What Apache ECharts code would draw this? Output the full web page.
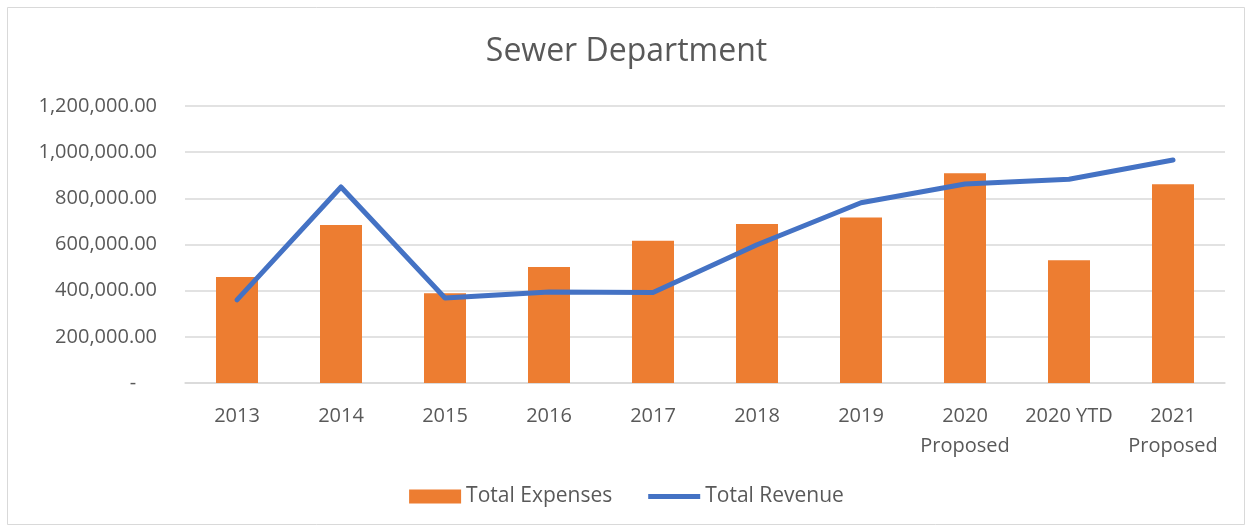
<!DOCTYPE html>
<html><head><meta charset="utf-8">
<script src="https://cdn.jsdelivr.net/npm/echarts@6/dist/echarts.min.js"></script>
<style>html,body{margin:0;padding:0;background:#fff}#c{width:1253px;height:531px}</style>
</head><body><div id="c"></div>
<script>
const categories = ['2013','2014','2015','2016','2017','2018','2019','2020\nProposed','2020 YTD','2021\nProposed'];
const totalExpenses = [459000, 684000, 389000, 502000, 616000, 689000, 717000, 909000, 532000, 861000];
const totalRevenue = [360000, 849000, 368000, 394000, 392000, 599000, 781000, 862000, 883000, 966000];
const yTicks = [0, 200000, 400000, 600000, 800000, 1000000, 1200000];

const chart = echarts.init(document.getElementById('c'));
const font = 'Open Sans';
chart.setOption({
  animation: false,
  backgroundColor: '#fff',
  graphic: [{type:'rect', shape:{x:7.5,y:7.5,width:1237,height:517}, style:{fill:'none', stroke:'#d9d9d9', lineWidth:1}, silent:true}],
  title: {text:'Sewer Department', left:'center', top:31, textStyle:{fontFamily:font, fontSize:32, fontWeight:'normal', color:'#595959'}},
  grid: {left:185, right:28, top:106, bottom:148},
  legend: {bottom:19, left:'center', itemGap:36, itemWidth:52, itemHeight:14,
    textStyle:{fontFamily:font, fontSize:21, color:'#595959'},
    data:[{name:'Total Expenses', icon:'rect'}, {name:'Total Revenue', icon:'path://M0,4 L52,4 L52,9 L0,9 Z', itemStyle:{color:'#4472C4'}}]},
  xAxis: {type:'category', data:categories,
    axisLine:{show:true, lineStyle:{color:'#d9d9d9', width:1.5}}, axisTick:{show:false},
    axisLabel:{interval:0, fontFamily:font, fontSize:20, color:'#595959', margin:18, lineHeight:30}},
  yAxis: {type:'value', min:yTicks[0], max:yTicks[yTicks.length-1], interval:200000,
    axisLine:{show:false}, axisTick:{show:false},
    splitLine:{lineStyle:{color:'#d9d9d9', width:1.5}},
    axisLabel:{fontFamily:font, fontSize:20, color:'#595959', margin:28,
      formatter:v => v===0 ? '-    ' : v.toLocaleString('en-US',{minimumFractionDigits:2, maximumFractionDigits:2})}},
  series: [
    {name:'Total Expenses', type:'bar', data:totalExpenses, barWidth:42, itemStyle:{color:'#ED7D31'}},
    {name:'Total Revenue', type:'line', data:totalRevenue, symbol:'none', lineStyle:{color:'#4472C4', width:5, cap:'round', join:'round'}, itemStyle:{color:'#4472C4'}}
  ]
});
</script></body></html>
